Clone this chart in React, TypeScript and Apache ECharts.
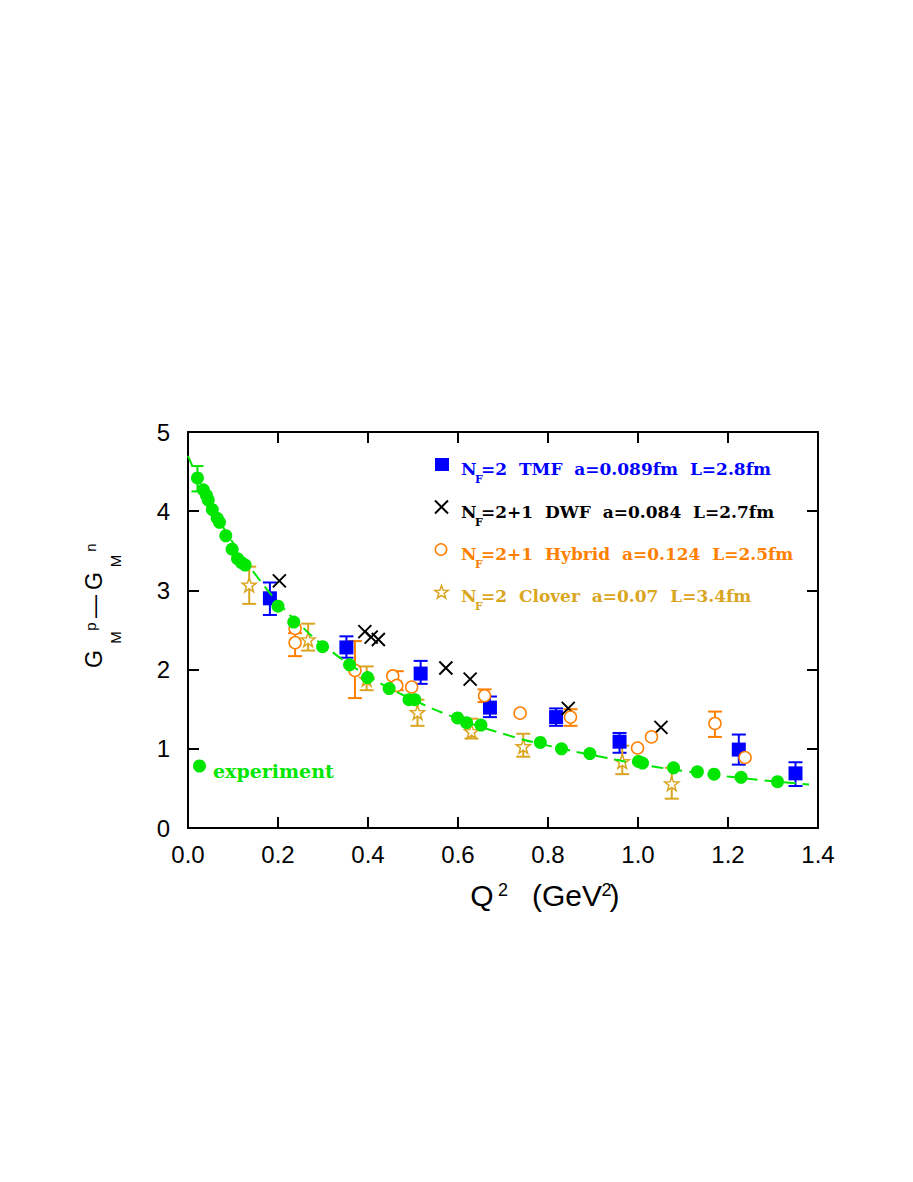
import React, { useEffect, useRef } from "react";
import * as echarts from "echarts";

// ---------------- DATA ----------------
const xTickLabels = ["0.0", "0.2", "0.4", "0.6", "0.8", "1.0", "1.2", "1.4"];
const yTickLabels = ["0", "1", "2", "3", "4", "5"];

// experiment (green)
const expQ2 = [0.021, 0.034, 0.041, 0.045, 0.054, 0.065, 0.07, 0.084, 0.098, 0.11, 0.119, 0.127, 0.2, 0.235, 0.299, 0.359, 0.399, 0.447, 0.491, 0.504, 0.599, 0.619, 0.651, 0.783, 0.83, 0.893, 1.001, 1.01, 1.079, 1.132, 1.169, 1.229, 1.31];
const expG = [4.42, 4.27, 4.2, 4.14, 4.02, 3.91, 3.86, 3.69, 3.52, 3.4, 3.35, 3.32, 2.8, 2.6, 2.29, 2.06, 1.9, 1.76, 1.62, 1.62, 1.39, 1.33, 1.3, 1.08, 1.0, 0.94, 0.84, 0.82, 0.76, 0.71, 0.68, 0.64, 0.585];
const expLo = [4.25, null, null, null, null, null, null, null, null, null, null, null, null, null, null, null, null, null, null, null, null, null, null, null, null, null, null, null, null, null, null, null, null];
const expHi = [4.57, null, null, null, null, null, null, null, null, null, null, null, null, null, null, null, null, null, null, null, null, null, null, null, null, null, null, null, null, null, null, null, null];

// dashed fit curve
const fitQ2 = [0, 0.05, 0.1, 0.15, 0.2, 0.25, 0.3, 0.4, 0.5, 0.6, 0.7, 0.8, 0.9, 1.0, 1.1, 1.2, 1.3, 1.38];
const fitG = [4.7, 4.09, 3.6, 3.2, 2.85, 2.56, 2.31, 1.92, 1.62, 1.38, 1.19, 1.04, 0.92, 0.81, 0.72, 0.65, 0.59, 0.55];

// NF=2 TMF (blue squares)
const tmfQ2 = [0.182, 0.352, 0.517, 0.671, 0.818, 0.959, 1.224, 1.35];
const tmfG = [2.9, 2.28, 1.95, 1.52, 1.4, 1.09, 0.99, 0.69];
const tmfLo = [2.69, 2.15, 1.82, 1.4, 1.29, 0.95, 0.8, 0.53];
const tmfHi = [3.1, 2.42, 2.11, 1.66, 1.51, 1.2, 1.18, 0.83];

// NF=2+1 DWF (black crosses)
const dwfQ2 = [0.203, 0.393, 0.407, 0.423, 0.573, 0.627, 0.845, 1.051];
const dwfG = [3.12, 2.48, 2.41, 2.38, 2.02, 1.88, 1.51, 1.27];

// NF=2+1 Hybrid (orange open circles)
const hybQ2 = [0.238, 0.238, 0.371, 0.455, 0.464, 0.497, 0.659, 0.738, 0.85, 0.999, 1.03, 1.171, 1.238];
const hybG = [2.52, 2.34, 1.99, 1.92, 1.8, 1.78, 1.67, 1.45, 1.4, 1.01, 1.15, 1.32, 0.89];
const hybLo = [null, 2.17, 1.64, null, 1.74, null, 1.59, null, 1.29, null, null, 1.15, null];
const hybHi = [null, 2.46, 2.36, null, 1.98, null, 1.75, null, 1.5, null, null, 1.47, null];

// NF=2 Clover (gold open stars)
const clvQ2 = [0.136, 0.267, 0.397, 0.51, 0.63, 0.745, 0.965, 1.075];
const clvG = [3.07, 2.38, 1.88, 1.46, 1.22, 1.03, 0.84, 0.56];
const clvLo = [2.83, 2.24, 1.74, 1.29, 1.13, 0.9, 0.68, 0.37];
const clvHi = [3.3, 2.58, 2.04, 1.62, 1.38, 1.19, 1.04, 0.76];

// ---------------- STYLE ----------------
const BLUE = "#0000ff";
const BLACK = "#000000";
const ORANGE = "#ff7f00";
const GOLD = "#daa520";
const GREEN = "#00e600";

const SANS = '"Liberation Sans", Arial, sans-serif';
const SERIF = '"DejaVu Serif", serif';

function starPoints(cx: number, cy: number, R: number, r: number): number[][] {
  const pts: number[][] = [];
  for (let k = 0; k < 10; k++) {
    const a = -Math.PI / 2 + (k * Math.PI) / 5;
    const rr = k % 2 === 0 ? R : r;
    pts.push([cx + rr * Math.cos(a), cy + rr * Math.sin(a)]);
  }
  return pts;
}
const STAR_SYMBOL =
  "path://M" + starPoints(0, 0, 10, 4).map((p) => `${p[0].toFixed(3)},${p[1].toFixed(3)}`).join("L") + "Z";
const CROSS_SYMBOL = "path://M0,0L10,10M0,10L10,0";

function zip(xs: number[], ys: number[]) {
  return xs.map((x, i) => [x, ys[i]]);
}

function errSeries(xs: number[], lo: (number | null)[], hi: (number | null)[], color: string, z: number, half = 7) {
  const data: number[][] = [];
  xs.forEach((x, i) => {
    if (lo[i] != null && hi[i] != null) data.push([x, lo[i] as number, hi[i] as number]);
  });
  return {
    type: "custom",
    z,
    silent: true,
    clip: false,
    encode: { x: 0, y: [1, 2] },
    data,
    renderItem: (_p: any, api: any) => {
      const x = api.value(0);
      const p1 = api.coord([x, api.value(1)]);
      const p2 = api.coord([x, api.value(2)]);
      const st = { stroke: color, lineWidth: 2, fill: "none" };
      return {
        type: "group",
        children: [
          { type: "line", shape: { x1: p1[0], y1: p1[1], x2: p2[0], y2: p2[1] }, style: st },
          { type: "line", shape: { x1: p1[0] - half, y1: p1[1], x2: p1[0] + half, y2: p1[1] }, style: st },
          { type: "line", shape: { x1: p2[0] - half, y1: p2[1], x2: p2[0] + half, y2: p2[1] }, style: st },
        ],
      };
    },
  };
}

function txt(text: string, x: number, y: number, size: number, opts: any = {}) {
  const align = opts.align || "center";
  return {
    type: "text",
    x,
    y,
    rotation: opts.rotation || 0,
    silent: true,
    z: 100,
    style: {
      text,
      fill: opts.color || "#000",
      fontSize: size,
      fontFamily: opts.family || SANS,
      fontWeight: opts.weight || "normal",
      align,
      verticalAlign: "middle",
      textAlign: align,
      textVerticalAlign: "middle",
    },
  };
}

function legendRow(y: number, rest: string, color: string) {
  return [
    txt("N", 461, y, 17, { align: "left", family: SERIF, weight: "bold", color }),
    txt("F", 475, y + 10, 11, { align: "left", family: SERIF, weight: "bold", color }),
    txt(rest, 481, y, 17, { align: "left", family: SERIF, weight: "bold", color }),
  ];
}

const NB = "\u00a0\u00a0";

export default function App() {
  const ref = useRef<HTMLDivElement>(null);
  useEffect(() => {
    if (!ref.current) return;
    const chart = echarts.init(ref.current, null, { renderer: "svg" });

    const axisCommon = {
      min: 0,
      axisLine: { show: true, onZero: false, lineStyle: { color: "#000", width: 2 } },
      axisTick: { show: true, inside: true, length: 11, lineStyle: { color: "#000", width: 2 } },
      splitLine: { show: false },
    };

    const graphics: any[] = [
      // y-axis title  G_M^p — G_M^n (rotated)
      txt("G", 94, 659, 23, { rotation: Math.PI / 2 }),
      txt("M", 115, 637.5, 15, { rotation: Math.PI / 2 }),
      txt("p", 90, 626.5, 15, { rotation: Math.PI / 2 }),
      txt("\u2014", 94, 606.5, 23, { rotation: Math.PI / 2 }),
      txt("G", 94, 581, 23, { rotation: Math.PI / 2 }),
      txt("M", 115, 561, 15, { rotation: Math.PI / 2 }),
      txt("n", 90, 547.5, 15, { rotation: Math.PI / 2 }),
      // x-axis title  Q^2 (GeV^2)
      txt("Q", 482, 895.5, 30),
      txt("2", 503, 889.5, 18),
      txt("(GeV", 567, 895.5, 30),
      txt("2", 606.5, 889.5, 18),
      txt(")", 614.5, 895.5, 30),
      // legend markers
      { type: "rect", silent: true, z: 100, shape: { x: 435, y: 458, width: 14, height: 13 }, style: { fill: BLUE } },
      { type: "line", silent: true, z: 100, shape: { x1: 435, y1: 500.5, x2: 448, y2: 513.5 }, style: { stroke: BLACK, lineWidth: 2 } },
      { type: "line", silent: true, z: 100, shape: { x1: 435, y1: 513.5, x2: 448, y2: 500.5 }, style: { stroke: BLACK, lineWidth: 2 } },
      { type: "circle", silent: true, z: 100, shape: { cx: 441, cy: 549.5, r: 5.7 }, style: { fill: "#fff", stroke: ORANGE, lineWidth: 1.5 } },
      { type: "polygon", silent: true, z: 100, shape: { points: starPoints(441.5, 592.5, 7, 2.8) }, style: { fill: "#fff", stroke: GOLD, lineWidth: 1.5 } },
      ...legendRow(469, `=2${NB}TMF${NB}a=0.089fm${NB}L=2.8fm`, BLUE),
      ...legendRow(512, `=2+1${NB}DWF${NB}a=0.084${NB}L=2.7fm`, BLACK),
      ...legendRow(554, `=2+1${NB}Hybrid${NB}a=0.124${NB}L=2.5fm`, ORANGE),
      ...legendRow(596, `=2${NB}Clover${NB}a=0.07${NB}L=3.4fm`, GOLD),
      // experiment label
      { type: "circle", silent: true, z: 100, shape: { cx: 199.5, cy: 766, r: 6.5 }, style: { fill: GREEN } },
      txt("experiment", 213, 770.5, 19, { align: "left", family: SERIF, weight: "bold", color: GREEN }),
    ];

    const option: any = {
      animation: false,
      backgroundColor: "#fff",
      grid: { left: 188, top: 432, width: 630, height: 396, containLabel: false },
      xAxis: [
        {
          ...axisCommon,
          type: "value",
          position: "bottom",
          max: 1.4,
          interval: 0.2,
          axisLabel: {
            show: true,
            margin: 14,
            fontSize: 24,
            fontFamily: SANS,
            color: "#000",
            formatter: (v: number) => xTickLabels[Math.round(v / 0.2)] ?? "",
          },
        },
        {
          ...axisCommon,
          type: "value",
          position: "top",
          max: 1.4,
          interval: 0.2,
          axisLabel: { show: false },
        },
      ],
      yAxis: [
        {
          ...axisCommon,
          type: "value",
          position: "left",
          max: 5,
          interval: 1,
          axisLabel: {
            show: true,
            margin: 18,
            fontSize: 24,
            fontFamily: SANS,
            color: "#000",
            formatter: (v: number) => yTickLabels[Math.round(v)] ?? "",
          },
        },
        {
          ...axisCommon,
          type: "value",
          position: "right",
          max: 5,
          interval: 1,
          axisLabel: { show: false },
        },
      ],
      series: [
        errSeries(tmfQ2, tmfLo, tmfHi, BLUE, 2),
        {
          type: "scatter",
          z: 3,
          symbol: "rect",
          symbolSize: 14,
          itemStyle: { color: BLUE, opacity: 1 },
          data: zip(tmfQ2, tmfG),
        },
        {
          type: "scatter",
          z: 3,
          symbol: CROSS_SYMBOL,
          symbolSize: 13,
          itemStyle: { color: "none", borderColor: BLACK, borderWidth: 2, opacity: 1 },
          data: zip(dwfQ2, dwfG),
        },
        errSeries(hybQ2, hybLo, hybHi, ORANGE, 2),
        {
          type: "scatter",
          z: 4,
          symbol: "circle",
          symbolSize: 12,
          itemStyle: { color: "#fff", borderColor: ORANGE, borderWidth: 1.5, opacity: 1 },
          data: zip(hybQ2, hybG),
        },
        errSeries(clvQ2, clvLo, clvHi, GOLD, 2),
        {
          type: "scatter",
          z: 5,
          symbol: STAR_SYMBOL,
          symbolSize: 14,
          itemStyle: { color: "#fff", borderColor: GOLD, borderWidth: 1.5, opacity: 1 },
          data: zip(clvQ2, clvG),
        },
        {
          type: "line",
          z: 6,
          smooth: true,
          symbol: "none",
          lineStyle: { color: GREEN, width: 2, type: [12, 7] },
          data: zip(fitQ2, fitG),
        },
        errSeries(expQ2, expLo, expHi, GREEN, 6, 6),
        {
          type: "scatter",
          z: 7,
          symbol: "circle",
          symbolSize: 13,
          itemStyle: { color: GREEN, opacity: 1 },
          data: zip(expQ2, expG),
        },
      ],
      graphic: graphics,
    };

    chart.setOption(option);
    return () => chart.dispose();
  }, []);

  return (
    <div
      ref={ref}
      style={{ position: "fixed", left: 0, top: 0, width: 913, height: 1182, background: "#fff" }}
    />
  );
}
